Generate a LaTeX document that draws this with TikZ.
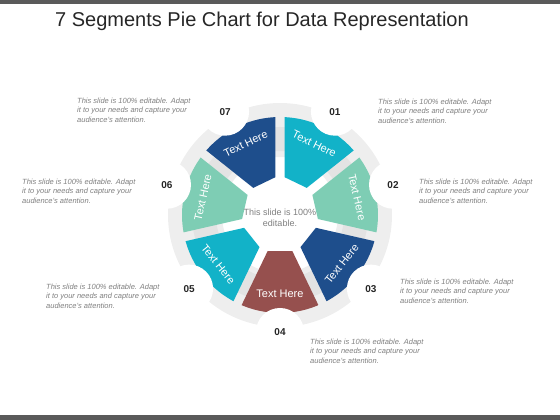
\documentclass[tikz,border=0pt]{standalone}
\usepackage{fontspec}
\setmainfont{Liberation Sans}
\usepackage{tikz}

\definecolor{bargray}{HTML}{5A5A5A}
\definecolor{titlegray}{HTML}{262626}
\definecolor{descgray}{HTML}{7F7F7F}
\definecolor{ringgray}{HTML}{EEEEEE}
\definecolor{bandgray}{HTML}{E3E3E3}
\definecolor{segcyan}{HTML}{12B2C8}
\definecolor{segmint}{HTML}{7ECDB4}
\definecolor{segblue}{HTML}{1E4E8C}
\definecolor{segbrown}{HTML}{96504E}

\begin{document}
\begin{tikzpicture}[x=1pt,y=1pt,
	desc/.style={anchor=north west, align=left, inner sep=0pt, text=descgray,
		font=\fontsize{7.5}{9.5}\selectfont\itshape},
	num/.style={font=\fontsize{10}{12}\selectfont\bfseries, text=titlegray},
	seglabel/.style={font=\fontsize{11}{13}\selectfont, text=white, inner sep=0pt},
	midtext/.style={align=center, text=descgray, font=\fontsize{9}{10.5}\selectfont}]
	
	\useasboundingbox (0,0) rectangle (560,420);
	
	% Bars at top and bottom
	\fill[bargray] (0,415.5) rectangle (560,420);
	\fill[bargray] (0,0) rectangle (560,5);
	
	% Title
	\node[font=\fontsize{20}{24}\selectfont, text=titlegray] (title) at (262,399) {7 Segments Pie Chart for Data Representation};
	
	\begin{scope}[shift={(280,205)}]
		% Gray ring under the segments
		\fill[ringgray, even odd rule] (0,0) circle[radius=112] (0,0) circle[radius=58];
		\fill[bandgray, even odd rule] (0,0) circle[radius=88] (0,0) circle[radius=64];
		
		% Segments
		\foreach \n/\mid/\col/\rot in {01/64.29/segcyan/-25.71, 02/12.86/segmint/-77.14,
			03/-38.57/segblue/51.43, 04/-90/segbrown/0, 05/-141.43/segcyan/-51.43,
			06/167.14/segmint/77.14, 07/115.71/segblue/25.71} {
			\begin{scope}
				\clip (\mid:10.4) -- +(\mid-25.71:200) -- +(\mid+25.71:200) -- cycle;
				\fill[\col] (\mid-25.71:98) arc[start angle=\mid-25.71, end angle=\mid+25.71, radius=98]
					-- (\mid+25.71:40) -- (\mid-25.71:40) -- cycle;
			\end{scope}
			\node[seglabel, rotate=\rot] (lbl\n) at (\mid:79) {Text Here};
		}
		
		% Number circles
		\foreach \n/\ang in {01/62, 02/15, 03/-39, 04/-90, 05/-141, 06/165, 07/118} {
			\fill[white] (\ang:117) circle[radius=24];
			\node[num] (num\n) at (\ang:117) {\n};
		}
		
		\node[midtext] (mid) at (0,-3) {This slide is 100\%\\editable.};
	\end{scope}
	
	% Descriptions
	\node[desc] (desc07) at (77,322.5) {This slide is 100\% editable. Adapt\\it to your needs and capture your\\audience's attention.};
	\node[desc] (desc01) at (378,321.5) {This slide is 100\% editable. Adapt\\it to your needs and capture your\\audience's attention.};
	\node[desc] (desc06) at (22,241.5) {This slide is 100\% editable. Adapt\\it to your needs and capture your\\audience's attention.};
	\node[desc] (desc02) at (419,241.5) {This slide is 100\% editable. Adapt\\it to your needs and capture your\\audience's attention.};
	\node[desc] (desc05) at (46,136.5) {This slide is 100\% editable. Adapt\\it to your needs and capture your\\audience's attention.};
	\node[desc] (desc03) at (400,141.5) {This slide is 100\% editable. Adapt\\it to your needs and capture your\\audience's attention.};
	\node[desc] (desc04) at (310,81.5) {This slide is 100\% editable. Adapt\\it to your needs and capture your\\audience's attention.};
	
\end{tikzpicture}
\end{document}
